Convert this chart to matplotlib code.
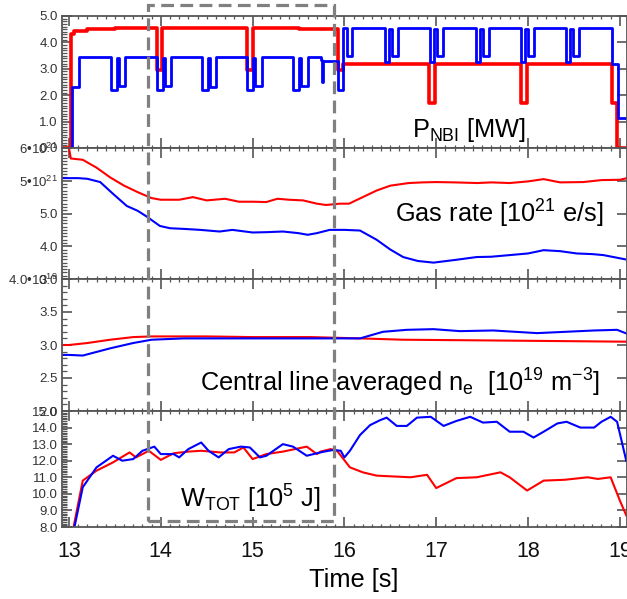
import matplotlib
matplotlib.use("Agg")
import matplotlib.pyplot as plt
from matplotlib.ticker import MultipleLocator
from matplotlib.patches import Rectangle

plt.rcParams["font.family"] = ["Liberation Sans", "DejaVu Sans"]
plt.rcParams["mathtext.fontset"] = "custom"
plt.rcParams["mathtext.rm"] = "Liberation Sans"
plt.rcParams["mathtext.it"] = "Liberation Sans:italic"

# --- NBI power [MW] (step signals) ---
t_pnbi_red = [12.92, 13.02, 13.06, 13.2, 13.5, 13.96, 14.01, 14.94, 15.0, 15.5,
              15.93, 15.98, 16.92, 16.99, 17.92, 17.99, 18.92, 18.97, 19.08]
pnbi_red = [0.0, 4.3, 4.45, 4.52, 4.56, 2.95, 4.56, 2.95, 4.56, 4.52,
            2.95, 3.2, 1.7, 3.2, 1.7, 3.2, 1.7, 0.0, 0.0]

t_pnbi_blue = [12.92, 13.03, 13.11, 13.46, 13.52, 13.55, 13.61, 13.96, 14.02, 14.05, 14.11,
               14.45, 14.51, 14.54, 14.6, 14.94, 15.0, 15.03, 15.1, 15.44, 15.5, 15.53, 15.6,
               15.74, 15.76, 15.77, 15.93, 15.98, 16.03, 16.08, 16.44, 16.49, 16.52, 16.58,
               16.93, 16.98, 17.01, 17.07, 17.43, 17.48, 17.51, 17.57, 17.92, 17.97, 18.0, 18.06,
               18.41, 18.46, 18.49, 18.55, 18.91, 18.98, 19.08]
pnbi_blue = [0.0, 2.3, 3.45, 2.2, 3.4, 2.35, 3.45, 2.2, 3.4, 2.35, 3.45,
             2.2, 3.4, 2.3, 3.45, 2.2, 3.4, 2.35, 3.45, 2.2, 3.4, 2.35, 3.45,
             3.35, 2.5, 3.3, 2.2, 4.55, 3.5, 4.55, 3.25, 4.5, 3.5, 4.55,
             3.25, 4.5, 3.5, 4.55, 3.25, 4.5, 3.5, 4.55, 3.25, 4.5, 3.5, 4.55,
             3.25, 4.5, 3.5, 4.55, 3.2, 1.15, 1.15]

# --- gas rate ---
t_gas_red = [13.0, 13.02, 13.15, 13.3, 13.45, 13.6, 13.75, 13.9, 14.0, 14.2, 14.35, 14.5,
             14.7, 14.85, 15.0, 15.15, 15.27, 15.4, 15.55, 15.7, 15.8, 15.95, 16.05, 16.2,
             16.35, 16.5, 16.7, 16.85, 17.0, 17.2, 17.45, 17.6, 17.8, 18.0, 18.17, 18.35,
             18.6, 18.8, 19.0, 19.08]
gas_red = [6.0, 5.68, 5.64, 5.4, 5.1, 4.85, 4.65, 4.47, 4.42, 4.42, 4.5, 4.4,
           4.45, 4.36, 4.36, 4.35, 4.45, 4.42, 4.4, 4.3, 4.26, 4.3, 4.3, 4.5,
           4.7, 4.85, 4.93, 4.95, 4.96, 4.95, 4.93, 4.95, 4.93, 4.98, 5.05, 4.95,
           4.96, 5.02, 5.03, 5.08]

t_gas_blue = [12.93, 13.1, 13.2, 13.34, 13.48, 13.63, 13.75, 13.85, 13.99, 14.1, 14.25,
              14.43, 14.64, 14.78, 15.0, 15.15, 15.33, 15.5, 15.6, 15.7, 15.84, 16.0, 16.17,
              16.35, 16.5, 16.64, 16.8, 16.97, 17.2, 17.44, 17.6, 17.8, 18.0, 18.17, 18.35,
              18.53, 18.7, 18.82, 18.95, 19.06]
gas_blue = [5.08, 5.08, 5.06, 4.96, 4.6, 4.23, 4.08, 3.9, 3.62, 3.55, 3.53,
            3.5, 3.45, 3.5, 3.42, 3.43, 3.45, 3.4, 3.35, 3.4, 3.5, 3.5, 3.48,
            3.2, 2.9, 2.67, 2.55, 2.5, 2.58, 2.67, 2.68, 2.73, 2.78, 2.88, 2.85,
            2.78, 2.76, 2.73, 2.66, 2.6]

# --- central line averaged density [1e19 m^-3] ---
t_ne_red = [12.93, 13.0, 13.2, 13.45, 13.7, 13.9, 14.5, 15.0, 15.63, 16.17, 16.64, 17.5, 18.3, 19.08]
ne_red = [3.0, 3.0, 3.03, 3.08, 3.12, 3.13, 3.13, 3.12, 3.12, 3.1, 3.08, 3.07, 3.06, 3.05]

t_ne_blue = [12.93, 13.0, 13.15, 13.45, 13.7, 13.9, 14.25, 15.0, 15.7, 16.17, 16.42, 16.68,
             16.97, 17.26, 17.62, 18.1, 18.72, 18.97, 19.08]
ne_blue = [2.85, 2.85, 2.84, 2.95, 3.03, 3.08, 3.1, 3.1, 3.1, 3.1, 3.2, 3.23,
           3.24, 3.21, 3.22, 3.18, 3.22, 3.23, 3.17]

# --- stored energy [1e5 J] ---
t_w_red = [13.05, 13.15, 13.3, 13.48, 13.66, 13.73, 13.87, 14.0, 14.14, 14.3, 14.44, 14.65,
           14.8, 14.9, 15.0, 15.15, 15.33, 15.59, 15.7, 15.74, 15.85, 15.92, 16.06, 16.2,
           16.35, 16.72, 16.9, 17.0, 17.22, 17.44, 17.7, 17.8, 17.99, 18.17, 18.4, 18.65,
           18.76, 18.9, 19.0, 19.07]
w_red = [8.0, 10.8, 11.4, 11.9, 12.5, 12.2, 12.6, 12.05, 12.45, 12.55, 12.6, 12.5,
         12.5, 12.8, 12.1, 12.4, 12.55, 12.85, 12.4, 12.55, 12.7, 12.6, 11.6, 11.3,
         11.1, 11.0, 11.15, 10.35, 10.95, 11.0, 11.3, 11.0, 10.2, 10.8, 10.85, 11.0,
         10.9, 11.0, 9.6, 8.7]

t_w_blue = [13.06, 13.15, 13.3, 13.48, 13.58, 13.7, 13.8, 13.93, 14.0, 14.14, 14.2, 14.3,
            14.44, 14.52, 14.63, 14.74, 14.87, 14.97, 15.08, 15.15, 15.33, 15.44, 15.59,
            15.7, 15.78, 15.88, 15.96, 16.0, 16.06, 16.17, 16.28, 16.39, 16.46, 16.57,
            16.68, 16.79, 16.94, 17.08, 17.22, 17.37, 17.51, 17.66, 17.8, 17.95, 18.06,
            18.17, 18.32, 18.42, 18.57, 18.72, 18.8, 18.9, 18.97, 19.07]
w_blue = [8.0, 10.4, 11.6, 12.3, 12.0, 12.1, 12.6, 12.85, 12.4, 12.4, 12.2, 12.7,
          13.1, 12.6, 12.2, 12.7, 12.85, 12.8, 12.2, 12.3, 13.0, 12.85, 12.3,
          12.45, 12.55, 12.65, 12.6, 12.2, 12.6, 13.55, 14.15, 14.45, 14.6, 14.1,
          14.1, 14.6, 14.65, 14.1, 14.4, 14.65, 14.3, 14.35, 13.75, 13.75, 13.4,
          13.75, 14.25, 14.35, 14.0, 14.0, 14.35, 14.65, 14.35, 12.0]

# tick labels as printed on the original
pnbi_ticks = [0, 1, 2, 3, 4, 5]
pnbi_labels = ["0.0", "1.0", "2.0", "3.0", "4.0", "5.0"]
gas_ticks = [2, 3, 4, 5, 6]
gas_labels = ["3.0", "4.0", "5.0", "5•10$^{21}$", "6•10$^{21}$"]
ne_ticks = [2.0, 2.5, 3.0, 3.5, 4.0]
ne_labels = ["2.0", "2.5", "3.0", "3.5", "4.0•10$^{19}$"]
w_ticks = [8, 9, 10, 11, 12, 13, 14, 15]
w_labels = ["8.0", "9.0", "10.0", "11.0", "12.0", "13.0", "14.0", "15.0"]
time_ticks = [13, 14, 15, 16, 17, 18, 19]

RED = "#ff0000"
BLUE = "#0000ff"
AX = "#555555"
BIG = 18.3

fig = plt.figure(figsize=(6.27, 5.99), dpi=100)
L, W = 62 / 627, 565 / 627
ax1 = fig.add_axes([L, 1 - 148 / 599, W, 132 / 599])
ax2 = fig.add_axes([L, 1 - 279 / 599, W, 131 / 599])
ax3 = fig.add_axes([L, 1 - 411 / 599, W, 132 / 599])
ax4 = fig.add_axes([L, 1 - 527 / 599, W, 116 / 599])


def style(ax, ylim, ticks, labels, minor):
    ax.set_xlim(12.924, 19.078)
    ax.set_ylim(*ylim)
    ax.set_yticks(ticks)
    ax.set_yticklabels(labels)
    ax.yaxis.set_minor_locator(MultipleLocator(minor))
    ax.set_xticks(time_ticks)
    ax.xaxis.set_minor_locator(MultipleLocator(0.1))
    ax.tick_params(which="both", direction="in", top=True, bottom=True, left=True, color=AX)
    ax.tick_params(which="major", right=True, length=7, width=1.2)
    ax.tick_params(which="minor", right=False, length=3.5, width=0.9)
    ax.tick_params(axis="x", which="minor", length=2.5)
    ax.tick_params(axis="x", labelbottom=False)
    ax.tick_params(axis="y", labelsize=9.5, labelcolor="#333333", pad=3)
    for s in ax.spines.values():
        s.set_color(AX)
        s.set_linewidth(1.3)


ax1.plot(t_pnbi_red, pnbi_red, color=RED, lw=2.6, drawstyle="steps-post")
ax1.plot(t_pnbi_blue, pnbi_blue, color=BLUE, lw=2.0, drawstyle="steps-post")
style(ax1, (0, 5.0), pnbi_ticks, pnbi_labels, 0.1)
ax1.text(16.74, 0.42, r"P$_{\mathrm{NBI}}$ [MW]", fontsize=BIG, va="baseline")

ax2.plot(t_gas_red, gas_red, color=RED, lw=1.5)
ax2.plot(t_gas_blue, gas_blue, color=BLUE, lw=1.5)
style(ax2, (2, 6), gas_ticks, gas_labels, 0.1)
ax2.text(16.55, 3.71, r"Gas rate [10$^{21}$ e/s]", fontsize=BIG, va="baseline")

ax3.plot(t_ne_red, ne_red, color=RED, lw=1.5)
ax3.plot(t_ne_blue, ne_blue, color=BLUE, lw=1.5)
style(ax3, (2, 4), ne_ticks, ne_labels, 0.1)
ax3.text(14.43, 2.29, r"Central line averaged n$_{\mathrm{e}}$  [10$^{19}$ m$^{\mathrm{-3}}$]",
         fontsize=BIG, va="baseline")

ax4.plot(t_w_red, w_red, color=RED, lw=1.5)
ax4.plot(t_w_blue, w_blue, color=BLUE, lw=1.5)
style(ax4, (8, 15), w_ticks, w_labels, 0.1)
ax4.text(14.21, 9.15, r"W$_{\mathrm{TOT}}$ [10$^{5}$ J]", fontsize=BIG, va="baseline")
ax4.tick_params(axis="x", labelbottom=True, labelsize=15.5, pad=10, labelcolor="#111111")

fig.text(354 / 627, 1 - 587 / 599, "Time [s]", fontsize=BIG, ha="center", va="baseline")

# dashed selection box over the first phase
fig.add_artist(Rectangle((148 / 627, 1 - 521 / 599), (334 - 148) / 627, (521 - 5) / 599,
                         transform=fig.transFigure, fill=False, ec="#808080", lw=2.3,
                         ls=(0, (4, 2)), zorder=10))

fig.savefig("out.png", dpi=100)
